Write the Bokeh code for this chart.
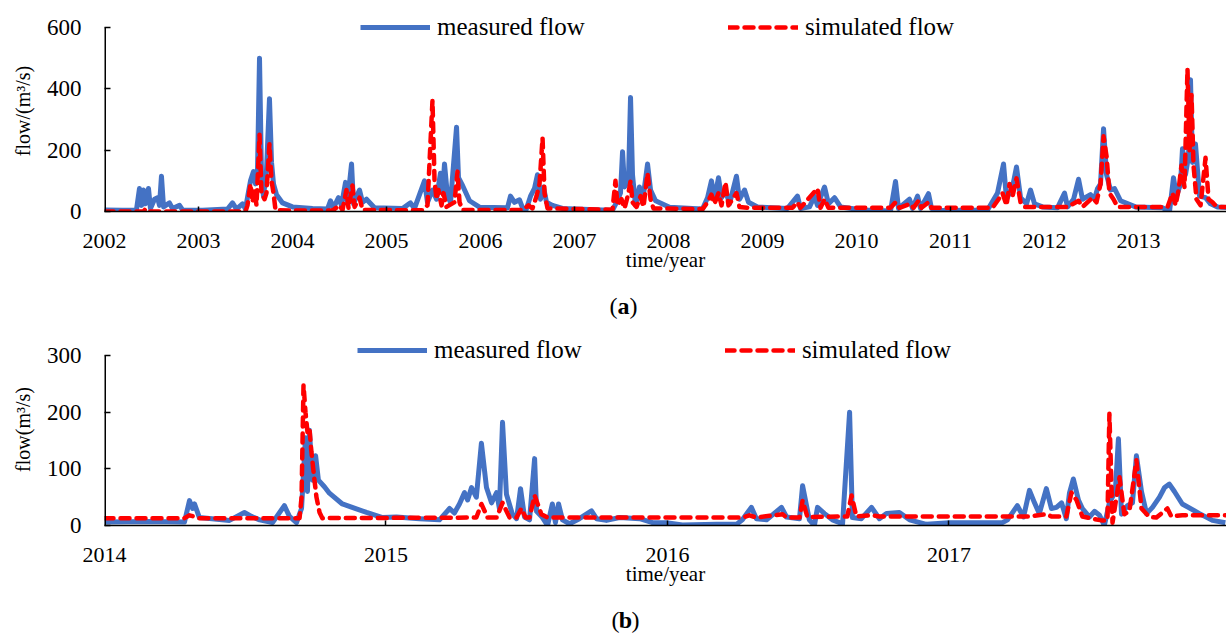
from bokeh.plotting import figure
from bokeh.models import FixedTicker, Legend, LegendItem, Range1d
from bokeh.core.properties import value
from bokeh.layouts import column
from bokeh.embed import file_html
from bokeh.resources import INLINE

FONT = "Liberation Serif"
BLUE = "#4472C4"
RED = "#FF0000"

# ---------------- panel (a) data: 2002-2013 ----------------
a_meas_year = [2002.000, 2002.191, 2002.340, 2002.372, 2002.394, 2002.415, 2002.436, 2002.468, 2002.489, 2002.532,
               2002.564, 2002.585, 2002.606, 2002.628, 2002.691, 2002.723, 2002.798, 2002.830, 2003.043, 2003.309,
               2003.362, 2003.404, 2003.468, 2003.500, 2003.532, 2003.553, 2003.585, 2003.606, 2003.628, 2003.649,
               2003.670, 2003.691, 2003.723, 2003.755, 2003.777, 2003.798, 2003.830, 2003.894, 2004.000, 2004.213,
               2004.372, 2004.404, 2004.436, 2004.489, 2004.521, 2004.564, 2004.585, 2004.628, 2004.649, 2004.713,
               2004.745, 2004.787, 2004.872, 2005.170, 2005.255, 2005.298, 2005.404, 2005.436, 2005.489, 2005.532,
               2005.574, 2005.596, 2005.617, 2005.649, 2005.681, 2005.745, 2005.766, 2005.809, 2005.883, 2005.989,
               2006.287, 2006.319, 2006.362, 2006.415, 2006.447, 2006.479, 2006.532, 2006.574, 2006.606, 2006.638,
               2006.670, 2006.702, 2006.766, 2006.872, 2007.298, 2007.404, 2007.447, 2007.489, 2007.511, 2007.532,
               2007.574, 2007.596, 2007.617, 2007.649, 2007.691, 2007.723, 2007.777, 2007.809, 2007.862, 2008.011,
               2008.255, 2008.362, 2008.415, 2008.457, 2008.489, 2008.532, 2008.564, 2008.606, 2008.649, 2008.723,
               2008.755, 2008.809, 2008.851, 2008.947, 2009.266, 2009.372, 2009.404, 2009.500, 2009.553, 2009.585,
               2009.660, 2009.702, 2009.766, 2009.830, 2010.064, 2010.362, 2010.415, 2010.447, 2010.564, 2010.596,
               2010.649, 2010.681, 2010.766, 2010.798, 2010.915, 2011.394, 2011.500, 2011.564, 2011.596, 2011.660,
               2011.702, 2011.745, 2011.809, 2011.851, 2011.894, 2011.979, 2012.138, 2012.213, 2012.245, 2012.309,
               2012.362, 2012.404, 2012.489, 2012.532, 2012.564, 2012.596, 2012.628, 2012.660, 2012.702, 2012.745,
               2012.809, 2012.968, 2013.255, 2013.330, 2013.372, 2013.404, 2013.447, 2013.468, 2013.500, 2013.532,
               2013.553, 2013.574, 2013.606, 2013.649, 2013.713, 2013.766, 2013.840, 2013.957]
a_meas_flow = [5, 4, 5, 75, 20, 70, 25, 75, 10, 40,
               45, 20, 115, 15, 28, 10, 20, 5, 4, 8,
               28, 8, 25, 8, 65, 100, 130, 90, 140, 500,
               120, 50, 130, 368, 160, 90, 55, 28, 15, 10,
               8, 35, 12, 45, 20, 95, 30, 155, 25, 70,
               30, 40, 12, 10, 28, 10, 100, 30, 70, 40,
               125, 60, 155, 50, 30, 275, 110, 85, 35, 14,
               12, 50, 30, 38, 12, 0, 50, 75, 120, 40,
               80, 30, 20, 10, 5, 4, 30, 60, 195, 80,
               100, 372, 120, 20, 80, 30, 155, 70, 35, 14,
               10, 8, 45, 100, 40, 110, 45, 70, 25, 115,
               40, 70, 30, 15, 10, 50, 10, 15, 50, 20,
               80, 25, 45, 15, 5, 2, 98, 10, 40, 10,
               50, 10, 58, 10, 3, 5, 60, 155, 40, 80,
               145, 45, 25, 70, 25, 15, 12, 60, 15, 40,
               105, 40, 55, 40, 75, 90, 270, 120, 70, 75,
               35, 15, 12, 0, 110, 50, 90, 205, 120, 180,
               430, 160, 220, 50, 45, 25, 15, 12]

a_sim_year = [2002.000, 2002.415, 2002.436, 2002.457, 2003.500, 2003.521, 2003.553, 2003.574, 2003.596, 2003.617,
              2003.649, 2003.670, 2003.702, 2003.723, 2003.755, 2003.777, 2003.798, 2003.819, 2004.000, 2004.426,
              2004.500, 2004.532, 2004.574, 2004.596, 2004.638, 2004.660, 2004.713, 2004.745, 2005.383, 2005.436,
              2005.489, 2005.511, 2005.532, 2005.553, 2005.585, 2005.606, 2005.638, 2005.723, 2005.755, 2005.777,
              2005.809, 2006.447, 2006.511, 2006.553, 2006.596, 2006.628, 2006.660, 2006.681, 2006.713, 2007.404,
              2007.436, 2007.457, 2007.500, 2007.532, 2007.574, 2007.596, 2007.617, 2007.660, 2007.702, 2007.734,
              2007.777, 2007.809, 2007.840, 2008.362, 2008.415, 2008.457, 2008.489, 2008.532, 2008.564, 2008.606,
              2008.638, 2008.723, 2008.755, 2008.840, 2009.319, 2009.372, 2009.404, 2009.585, 2009.617, 2009.660,
              2009.702, 2010.362, 2010.415, 2010.457, 2010.574, 2010.606, 2010.660, 2010.691, 2010.766, 2010.798,
              2011.447, 2011.511, 2011.553, 2011.596, 2011.628, 2011.660, 2011.702, 2011.745, 2011.787, 2012.245,
              2012.362, 2012.404, 2012.511, 2012.553, 2012.596, 2012.628, 2012.660, 2012.691, 2012.734, 2012.777,
              2013.309, 2013.362, 2013.394, 2013.426, 2013.457, 2013.489, 2013.521, 2013.543, 2013.564, 2013.585,
              2013.617, 2013.660, 2013.713, 2013.745, 2013.787, 2013.830, 2013.957]
a_sim_flow = [0, 0, 8, 0, 0, 20, 90, 30, 70, 20,
              250, 60, 40, 60, 220, 100, 60, 5, 3, 3,
              20, 5, 70, 10, 85, 15, 45, 5, 4, 20,
              362, 100, 40, 70, 20, 60, 15, 30, 130, 30,
              5, 5, 20, 10, 50, 90, 240, 60, 10, 6,
              100, 20, 40, 10, 60, 100, 30, 15, 50, 15,
              125, 40, 10, 8, 30, 55, 25, 60, 20, 95,
              20, 60, 15, 12, 12, 30, 12, 75, 12, 40,
              12, 12, 30, 12, 25, 12, 35, 12, 30, 12,
              12, 40, 60, 20, 90, 50, 108, 30, 15, 15,
              35, 15, 45, 30, 90, 245, 180, 60, 40, 15,
              15, 60, 20, 70, 150, 80, 465, 200, 380, 150,
              40, 20, 175, 40, 30, 15, 15]

a_year_ticks = [2002, 2003, 2004, 2005, 2006, 2007, 2008, 2009, 2010, 2011, 2012, 2013]
a_year_marks = [2003, 2005, 2007, 2009, 2011, 2013]
a_flow_ticks = [0, 200, 400, 600]

# ---------------- panel (b) data: 2014-2017 ----------------
b_meas_year = [2014.000, 2014.160, 2014.284, 2014.302, 2014.313, 2014.320, 2014.337, 2014.444, 2014.497, 2014.522,
               2014.551, 2014.597, 2014.639, 2014.657, 2014.682, 2014.700, 2014.714, 2014.721, 2014.728, 2014.739,
               2014.750, 2014.760, 2014.782, 2014.799, 2014.845, 2014.931, 2014.988, 2015.037, 2015.119, 2015.190,
               2015.226, 2015.243, 2015.261, 2015.279, 2015.290, 2015.304, 2015.321, 2015.339, 2015.357, 2015.375,
               2015.393, 2015.403, 2015.414, 2015.428, 2015.449, 2015.464, 2015.478, 2015.492, 2015.510, 2015.528,
               2015.535, 2015.556, 2015.574, 2015.591, 2015.602, 2015.613, 2015.627, 2015.652, 2015.687, 2015.730,
               2015.748, 2015.783, 2015.830, 2015.901, 2015.947, 2015.996, 2016.053, 2016.174, 2016.245, 2016.266,
               2016.298, 2016.316, 2016.352, 2016.405, 2016.423, 2016.469, 2016.480, 2016.504, 2016.522, 2016.533,
               2016.558, 2016.586, 2016.622, 2016.647, 2016.657, 2016.689, 2016.725, 2016.753, 2016.778, 2016.824,
               2016.860, 2016.920, 2017.002, 2017.083, 2017.190, 2017.208, 2017.243, 2017.265, 2017.286, 2017.304,
               2017.321, 2017.346, 2017.364, 2017.382, 2017.400, 2017.417, 2017.428, 2017.442, 2017.460, 2017.474,
               2017.499, 2017.517, 2017.535, 2017.552, 2017.570, 2017.591, 2017.602, 2017.613, 2017.634, 2017.652,
               2017.666, 2017.684, 2017.702, 2017.723, 2017.748, 2017.766, 2017.783, 2017.801, 2017.829, 2017.890,
               2017.936, 2017.982]
b_meas_flow = [6, 7, 6, 44, 30, 38, 14, 9, 23, 16,
               10, 5, 35, 16, 5, 30, 155, 60, 168, 80,
               123, 80, 68, 57, 38, 23, 14, 15, 12, 10,
               30, 22, 38, 58, 45, 67, 50, 145, 67, 40,
               58, 30, 182, 55, 20, 12, 65, 15, 10, 118,
               25, 14, 0, 38, 5, 38, 10, 3, 12, 26,
               12, 9, 14, 12, 5, 5, 1, 2, 2, 10,
               32, 12, 10, 32, 15, 12, 70, 10, 0, 32,
               21, 10, 3, 200, 14, 12, 32, 12, 21, 23,
               10, 2, 5, 5, 5, 10, 35, 15, 62, 40,
               21, 65, 30, 32, 40, 12, 57, 82, 45, 30,
               15, 25, 18, 0, 40, 60, 153, 20, 35, 40,
               123, 60, 21, 32, 50, 67, 73, 60, 38, 21,
               9, 5]

b_sim_year = [2014.000, 2014.284, 2014.302, 2014.337, 2014.693, 2014.700, 2014.707, 2014.714, 2014.721, 2014.728,
              2014.735, 2014.746, 2014.753, 2014.764, 2014.774, 2015.321, 2015.339, 2015.361, 2015.393, 2015.414,
              2015.439, 2015.464, 2015.481, 2015.496, 2015.510, 2015.528, 2015.552, 2015.574, 2016.266, 2016.291,
              2016.316, 2016.409, 2016.423, 2016.469, 2016.480, 2016.497, 2016.639, 2016.654, 2016.671, 2016.725,
              2016.753, 2017.286, 2017.346, 2017.364, 2017.417, 2017.435, 2017.453, 2017.474, 2017.510, 2017.542,
              2017.563, 2017.570, 2017.581, 2017.606, 2017.623, 2017.641, 2017.666, 2017.684, 2017.712, 2017.737,
              2017.776, 2017.790, 2017.829, 2017.982]
b_sim_flow = [13, 13, 18, 13, 13, 50, 248, 200, 165, 172,
              130, 80, 50, 23, 13, 14, 38, 14, 14, 40,
              14, 14, 30, 14, 14, 53, 20, 14, 14, 18,
              14, 20, 14, 14, 44, 15, 16, 53, 16, 18,
              16, 16, 20, 16, 16, 58, 45, 16, 12, 9,
              9, 197, 5, 85, 20, 25, 115, 30, 15, 14,
              30, 16, 18, 18]

b_year_ticks = [2014, 2015, 2016, 2017]
b_year_marks = [2015, 2016, 2017]
b_flow_ticks = [0, 100, 200, 300]

LEFT = 104


def panel(x_start, x_end, y_end, xt, xm, yt, ytitle, mx, my, sx, sy,
          height, b_top, b_bottom, y_standoff, leg_xy):
    p = figure(width=1226, height=height,
               x_range=Range1d(x_start, x_end), y_range=Range1d(0, y_end),
               output_backend="svg", toolbar_location=None,
               min_border_top=b_top, min_border_bottom=b_bottom,
               min_border_left=LEFT, min_border_right=0)
    p.outline_line_color = None
    p.xgrid.visible = False
    p.ygrid.visible = False
    p.background_fill_color = "white"

    r1 = p.line(mx, my, line_color=BLUE, line_width=5, line_join="round")
    r2 = p.line(sx, sy, line_color=RED, line_width=4.5, line_dash="9 7",
                line_cap="round", line_join="round")
    # y axis line drawn only up to the top tick
    p.segment(x0=[x_start], y0=[yt[0]], x1=[x_start], y1=[yt[-1]],
              line_color="black", line_width=3)

    xa = p.xaxis[0]
    xa.ticker = FixedTicker(ticks=xt, minor_ticks=xm)
    xa.major_label_overrides = {t: str(t) for t in xt}
    xa.major_tick_in = 0
    xa.major_tick_out = 0
    xa.minor_tick_in = 5
    xa.minor_tick_out = 0
    xa.minor_tick_line_width = 1.5
    xa.minor_tick_line_color = "black"
    xa.axis_line_color = "black"
    xa.axis_line_width = 1.5
    xa.major_label_text_font = FONT
    xa.major_label_text_font_size = "22px"
    xa.major_label_text_color = "black"
    xa.major_label_standoff = 22
    xa.axis_label = "time/year"
    xa.axis_label_text_font = FONT
    xa.axis_label_text_font_size = "21px"
    xa.axis_label_text_font_style = "normal"
    xa.axis_label_text_color = "black"
    xa.axis_label_standoff = -3

    ya = p.yaxis[0]
    ya.ticker = FixedTicker(ticks=yt, minor_ticks=[])
    ya.major_tick_in = 6
    ya.major_tick_out = 0
    ya.major_tick_line_width = 1.5
    ya.major_tick_line_color = "black"
    ya.axis_line_color = None
    ya.major_label_text_font = FONT
    ya.major_label_text_font_size = "23px"
    ya.major_label_text_color = "black"
    ya.major_label_standoff = y_standoff
    ya.axis_label = ytitle
    ya.axis_label_text_font = FONT
    ya.axis_label_text_font_size = "20px"
    ya.axis_label_text_font_style = "normal"
    ya.axis_label_text_color = "black"
    ya.axis_label_standoff = 10

    legend = Legend(items=[LegendItem(label="measured flow", renderers=[r1]),
                           LegendItem(label="simulated flow", renderers=[r2])],
                    orientation="horizontal", location=leg_xy,
                    glyph_width=70, glyph_height=26, label_height=26,
                    label_standoff=7, spacing=143, padding=0, margin=0,
                    border_line_alpha=0, background_fill_alpha=0,
                    label_text_font=FONT, label_text_font_size="25px",
                    label_text_color="black")
    p.add_layout(legend)
    return p


def caption(letter, x_range, cx, cy, height):
    c = figure(width=1226, height=height, x_range=x_range, y_range=Range1d(0, height),
               output_backend="svg", toolbar_location=None,
               x_axis_type=None, y_axis_type=None,
               min_border_left=LEFT, min_border_right=0,
               min_border_top=0, min_border_bottom=0)
    c.outline_line_color = None
    c.grid.visible = False
    c.text(x=[cx], y=[cy], text=["("], x_offset=-6, text_font=value(FONT),
           text_font_size=value("24px"), text_align="right", text_baseline="middle",
           text_color="black")
    c.text(x=[cx], y=[cy], text=[letter], text_font=value(FONT), text_font_size=value("24px"),
           text_font_style="bold", text_align="center", text_baseline="middle", text_color="black")
    c.text(x=[cx], y=[cy], text=[")"], x_offset=6, text_font=value(FONT),
           text_font_size=value("24px"), text_align="left", text_baseline="middle",
           text_color="black")
    return c


pa = panel(2002, 2013.936, 655.4, a_year_ticks, a_year_marks, a_flow_ticks, "flow/(m³/s)",
           a_meas_year, a_meas_flow, a_sim_year, a_sim_flow,
           height=285, b_top=10, b_bottom=74, y_standoff=23,
           leg_xy=(256, 170))
ca = caption("a", pa.x_range, 2007.521, 20, 40)
pb = panel(2014, 2017.986, 338.8, b_year_ticks, b_year_marks, b_flow_ticks, "flow(m³/s)",
           b_meas_year, b_meas_flow, b_sim_year, b_sim_flow,
           height=270, b_top=8, b_bottom=70, y_standoff=23,
           leg_xy=(253, 161))
cb = caption("b", pb.x_range, 2015.851, 16, 40)

layout = column(pa, ca, pb, cb)
open("out.html", "w").write(file_html(layout, INLINE))
